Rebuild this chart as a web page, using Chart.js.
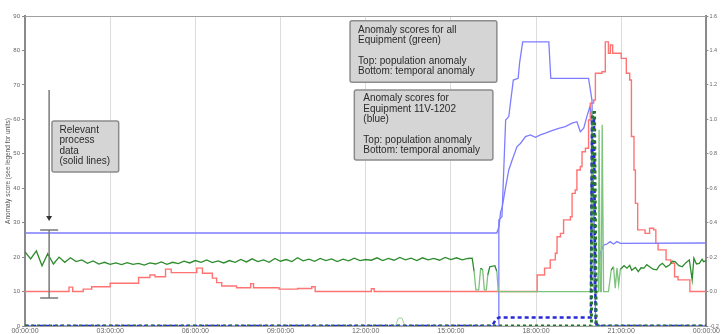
<!DOCTYPE html>
<html>
<head>
<meta charset="utf-8">
<script src="https://cdn.jsdelivr.net/npm/chart.js@4"></script>
<style>
  html, body { margin: 0; padding: 0; background: #fff; }
  #wrap { width: 721px; height: 334px; }
</style>
</head>
<body>
<div id="wrap"><canvas id="anomalyChart"></canvas></div>
<script>
// time axis is in hours from 00:00:00, values are in left-axis units (0-90)
const hourTicks = [0, 3, 6, 9, 12, 15, 18, 21, 24];
const leftTicks = [0, 10, 20, 30, 40, 50, 60, 70, 80, 90];
const rightTicks = [-0.2, 0, 0.2, 0.4, 0.6, 0.8, 1.0, 1.2, 1.4, 1.6];

// red process line (value holds until the next point)
const redSteps = [
    [0, 10], [1.55, 11.3], [1.68, 10], [2.05, 10.7], [2.35, 11.4], [3.0, 12.4], [4.0, 14.1],
    [4.4, 14.8], [4.58, 14.3], [4.95, 16.5], [5.15, 15.5], [6.05, 16.8], [6.25, 15.3],
    [6.6, 13.9], [6.75, 12.6], [6.93, 11.6], [7.45, 11.1], [7.95, 12.3], [8.05, 11.1],
    [8.95, 10.7], [9.6, 10.9], [10.1, 11.4], [10.22, 10], [12.2, 10.8], [12.3, 10],
    [18.04, 14.8], [18.3, 16.8], [18.5, 19.2], [18.68, 21.1], [18.74, 25.9], [18.86, 26.9],
    [18.97, 30.8], [19.21, 31.7], [19.27, 38.5], [19.38, 39.5], [19.44, 45.3], [19.56, 46.3],
    [19.62, 50.6], [19.74, 51.6], [19.85, 59.8], [19.91, 64.7], [20.03, 65.6], [20.09, 73.4],
    [20.32, 73.8], [20.44, 82.5], [20.55, 79.2], [20.62, 81.6], [20.7, 79.2], [21.0, 77.7],
    [21.18, 73.4], [21.3, 71.4], [21.36, 55], [21.45, 45.3], [21.5, 35.6], [21.58, 27.9],
    [21.84, 26.9], [22.0, 28.4], [22.14, 27.9], [22.22, 24], [22.3, 22.1], [22.58, 19.2],
    [22.75, 18.2], [22.88, 14.3], [23.0, 13.4], [23.42, 10], [24, 10]
];

// green process line, one reading every 0.2 h from 00:00 to 15:36
const greenStep = 0.2;
const greenEarly = [
    21.5, 19.5, 21.8, 17.5, 21.0, 18.0, 20.0, 18.5, 19.8, 18.7, 19.2, 18.2, 18.9, 18.0,
    18.5, 17.9, 18.3, 17.8, 18.4, 17.9, 18.2, 17.7, 18.3, 18.0, 18.6, 17.9, 18.5, 18.1,
    18.8, 18.3, 19.0, 18.5, 19.2, 18.4, 18.9, 18.3, 19.0, 18.5, 19.3, 18.6, 19.5, 18.7,
    19.2, 18.5, 19.6, 18.8, 19.3, 18.7, 19.8, 18.9, 19.4, 18.8, 19.6, 19.0, 19.5, 18.7,
    19.4, 18.9, 19.7, 19.0, 19.3, 19.1, 19.8, 19.0, 19.6, 19.1, 19.9, 19.2, 19.7, 19.0,
    19.8, 19.2, 19.6, 19.1, 19.9, 19.3, 19.8, 19.2, 19.6
];
const greenLate = [
    [15.75, 19.7], [15.82, 15.8], [15.88, 10.5], [15.98, 10.5], [16.05, 16.8], [16.12, 16.3],
    [16.18, 10.5], [16.25, 10.5], [16.3, 14.8], [16.37, 17.2], [16.55, 17.5], [16.62, 15.8],
    [16.67, 10], [19.92, 10], [19.97, 62.7], [20.03, 10], [20.2, 10], [20.22, 57], [20.26, 10],
    [20.3, 10], [20.33, 58.4], [20.38, 10], [20.55, 10], [20.65, 16.3], [20.73, 17.2],
    [20.79, 11], [20.85, 16.8], [20.91, 12], [20.97, 16.5], [21.1, 17.5], [21.2, 16.8],
    [21.3, 17.6], [21.37, 16.2], [21.5, 17.0], [21.6, 15.8], [21.7, 16.9], [21.8, 16.8],
    [21.9, 17.8], [22.0, 17.2], [22.12, 16.5], [22.25, 16.3], [22.35, 17.6], [22.45, 18.2],
    [22.58, 17.1], [22.7, 17.7], [22.8, 18.8], [22.9, 18.7], [23.02, 17.6], [23.15, 17.2],
    [23.28, 18.4], [23.4, 19.2], [23.5, 13.4], [23.56, 19.7], [23.65, 18.0], [23.75, 18.2],
    [23.85, 19.4], [23.9, 18.7], [24, 19]
];

// blue process line (equipment 11V-1202)
const blueProc = [
    [0, 27], [16.62, 27], [16.7, 29], [16.75, 33], [16.81, 34.6], [16.93, 40.4], [17.04, 45.3],
    [17.16, 48.2], [17.33, 52.1], [17.45, 53.0], [17.63, 55.0], [17.8, 55.5], [17.98, 54.8],
    [18.15, 55.5], [18.33, 56.0], [18.56, 56.7], [18.8, 57.4], [19.03, 57.9], [19.27, 58.9],
    [19.44, 59.3], [19.56, 56.4], [19.68, 57.4], [19.79, 60.8], [19.89, 63.5], [19.95, 62],
    [20.09, 12.9], [20.18, 13.4], [20.26, 21.1], [20.38, 23.5], [20.5, 23.8], [20.61, 24.5],
    [20.73, 23.8], [20.85, 24.5], [20.97, 24], [24, 24.1]
];

// population anomaly, equipment 11V-1202
const bluePopulation = [
    [0, 0], [16.68, 0], [16.69, 30.8], [16.8, 31.7], [16.93, 59.8], [17.04, 60.8],
    [17.2, 71.4], [17.37, 71.9], [17.42, 76.3], [17.53, 82.5], [18.45, 82.5], [18.52, 71.9],
    [19.85, 71.9], [19.97, 65.6], [20.1, 0], [24, 0]
];

// temporal anomaly, equipment 11V-1202 (dashed)
const blueTemporal = [
    [0, 0], [16.45, 0], [16.57, 1.7], [16.69, 2.5], [19.93, 2.5], [19.97, 60], [20.04, 60],
    [20.1, 0.9], [20.22, 0], [24, 0]
];

// temporal anomaly, all equipment (dotted)
const greenTemporal = [
    [0, 0], [19.95, 0], [19.99, 62], [20.06, 62], [20.12, 0], [24, 0]
];

// faint low trace
const greenLow = [
    [0, 0], [13.05, 0], [13.15, 2.3], [13.28, 2.3], [13.38, 0], [24, 0]
];

const noteAll = ['Anomaly scores for all', 'Equipment (green)', '', 'Top: population anomaly', 'Bottom: temporal anomaly'];
const noteBlue = ['Anomaly scores for', 'Equipment 11V-1202', '(blue)', '', 'Top: population anomaly', 'Bottom: temporal anomaly'];
const noteProcess = ['Relevant', 'process', 'data', '(solid lines)'];

function toPoints(pairs) {
    return pairs.map(p => ({ x: p[0], y: p[1] }));
}

const greenPoints = greenEarly.map((v, i) => ({ x: i * greenStep, y: v })).concat(toPoints(greenLate));

// boxes placed in data units (hours, left axis)
const noteBoxes = [
    { lines: noteAll, x0: 11.45, x1: 16.62, y0: 88.6, y1: 70.8, pad: 8, first: 9 },
    { lines: noteBlue, x0: 11.6, x1: 16.48, y0: 68.5, y1: 48.2, pad: 9, first: 8.5 },
    { lines: noteProcess, x0: 0.95, x1: 3.3, y0: 59.5, y1: 44.7, pad: 7.5, first: 9 }
];

const notesPlugin = {
    id: 'notes',
    beforeDatasetsDraw(chart) {
        const ctx = chart.ctx;
        const a = chart.chartArea;
        ctx.save();
        ctx.strokeStyle = '#a0a0a0';
        ctx.lineWidth = 1;
        ctx.beginPath();
        ctx.moveTo(a.left, a.top + 0.5);
        ctx.lineTo(a.right, a.top + 0.5);
        ctx.stroke();
        ctx.restore();
    },
    afterDatasetsDraw(chart) {
        const ctx = chart.ctx;
        const xs = chart.scales.x;
        const ys = chart.scales.y;
        ctx.save();

        // arrow down to the process range bar
        const ax = xs.getPixelForValue(0.85);
        const aTop = ys.getPixelForValue(68.5);
        const aTip = ys.getPixelForValue(30.5);
        ctx.strokeStyle = '#7a7a7a';
        ctx.lineWidth = 1.5;
        ctx.beginPath();
        ctx.moveTo(ax, aTop);
        ctx.lineTo(ax, aTip - 4);
        ctx.stroke();
        ctx.fillStyle = '#333';
        ctx.beginPath();
        ctx.moveTo(ax - 3, aTip - 5);
        ctx.lineTo(ax + 3, aTip - 5);
        ctx.lineTo(ax, aTip);
        ctx.closePath();
        ctx.fill();

        const bTop = ys.getPixelForValue(27.9);
        const bBot = ys.getPixelForValue(8.1);
        ctx.beginPath();
        ctx.moveTo(ax, bTop);
        ctx.lineTo(ax, bBot);
        ctx.moveTo(ax - 9, bTop);
        ctx.lineTo(ax + 9, bTop);
        ctx.moveTo(ax - 9, bBot);
        ctx.lineTo(ax + 9, bBot);
        ctx.stroke();

        noteBoxes.forEach(b => {
            const left = xs.getPixelForValue(b.x0);
            const right = xs.getPixelForValue(b.x1);
            const top = ys.getPixelForValue(b.y0);
            const bottom = ys.getPixelForValue(b.y1);
            ctx.fillStyle = '#d5d5d5';
            ctx.strokeStyle = '#8c8c8c';
            ctx.lineWidth = 1.5;
            ctx.beginPath();
            ctx.roundRect(left, top, right - left, bottom - top, 2);
            ctx.fill();
            ctx.stroke();
            ctx.fillStyle = '#2a2a2a';
            ctx.font = '10px "Liberation Sans", Arial, sans-serif';
            ctx.textBaseline = 'middle';
            ctx.textAlign = 'left';
            b.lines.forEach((t, i) => {
                ctx.fillText(t, left + b.pad, top + b.first + i * 10.4);
            });
        });
        ctx.restore();
    }
};

function lineSet(label, pairsOrPoints, color, width, dash, order) {
    return {
        label: label,
        data: pairsOrPoints,
        borderColor: color,
        backgroundColor: color,
        borderWidth: width,
        borderDash: dash || [],
        pointRadius: 0,
        tension: 0,
        fill: false,
        order: order
    };
}

// dropouts of the green trace are drawn in a paler green, as in the source plot
const greenSet = lineSet('Process data (green)', greenPoints, 'rgb(45,140,45)', 1.3, null, 3);
greenSet.segment = {
    borderColor: c => (c.p0.parsed.y <= 12 || c.p1.parsed.y <= 12) ? 'rgb(125,195,125)' : undefined
};

const redSet = lineSet('Process data (red)', toPoints(redSteps), 'rgb(255,115,115)', 1.4, null, 6);
redSet.stepped = 'before';

const tickFont = { family: '"Liberation Sans", Arial, sans-serif', size: 6 };

const ctx = document.getElementById('anomalyChart').getContext('2d');
new Chart(ctx, {
    type: 'line',
    data: {
        datasets: [
            lineSet('Temporal anomaly (all equipment)', toPoints(greenTemporal), 'rgb(35,115,45)', 3, [3, 3], 1),
            lineSet('Temporal anomaly (11V-1202)', toPoints(blueTemporal), 'rgb(40,40,215)', 2.5, [4, 3], 2),
            greenSet,
            lineSet('Process data (blue)', toPoints(blueProc), 'rgb(125,125,255)', 1.3, null, 4),
            lineSet('Population anomaly (11V-1202)', toPoints(bluePopulation), 'rgb(125,125,255)', 1.3, null, 5),
            redSet,
            lineSet('Low trace', toPoints(greenLow), 'rgb(160,210,160)', 1, null, 7)
        ]
    },
    options: {
        responsive: true,
        maintainAspectRatio: false,
        animation: false,
        layout: { padding: { top: 16, left: 0, right: 0, bottom: 0 } },
        plugins: {
            legend: { display: false },
            tooltip: { enabled: false }
        },
        scales: {
            x: {
                type: 'linear',
                min: hourTicks[0],
                max: hourTicks[hourTicks.length - 1],
                afterFit: s => { s.height = 8; },
                afterBuildTicks: s => { s.ticks = hourTicks.map(v => ({ value: v })); },
                ticks: {
                    autoSkip: false,
                    maxRotation: 0,
                    padding: 1,
                    color: '#666',
                    font: { family: tickFont.family, size: 7 },
                    callback: v => String(v % 24).padStart(2, '0') + ':00:00'
                },
                grid: { color: '#dcdcdc', lineWidth: 1, drawTicks: false },
                border: { color: '#a0a0a0', width: 1 }
            },
            y: {
                position: 'left',
                min: leftTicks[0],
                max: leftTicks[leftTicks.length - 1],
                afterFit: s => { s.width = 25; },
                afterBuildTicks: s => { s.ticks = leftTicks.map(v => ({ value: v })); },
                ticks: { color: '#666', font: tickFont, padding: 2 },
                grid: { drawOnChartArea: false, tickLength: 3, color: '#888' },
                border: { color: '#8a8a8a', width: 2 },
                title: {
                    display: true,
                    text: 'Anomaly score (see legend for units)',
                    color: '#555',
                    font: { family: tickFont.family, size: 6.5 },
                    padding: { top: 4, bottom: 0 }
                }
            },
            y1: {
                position: 'right',
                display: true,
                min: rightTicks[0],
                max: rightTicks[rightTicks.length - 1],
                afterFit: s => { s.width = 13; },
                afterBuildTicks: s => { s.ticks = rightTicks.map(v => ({ value: v })); },
                ticks: { color: '#666', font: { family: tickFont.family, size: 5.5 }, padding: 1, callback: v => v.toFixed(1) },
                grid: { drawOnChartArea: false, tickLength: 2, color: '#888' },
                border: { color: '#8a8a8a', width: 2 }
            }
        }
    },
    plugins: [notesPlugin]
});
</script>
</body>
</html>
